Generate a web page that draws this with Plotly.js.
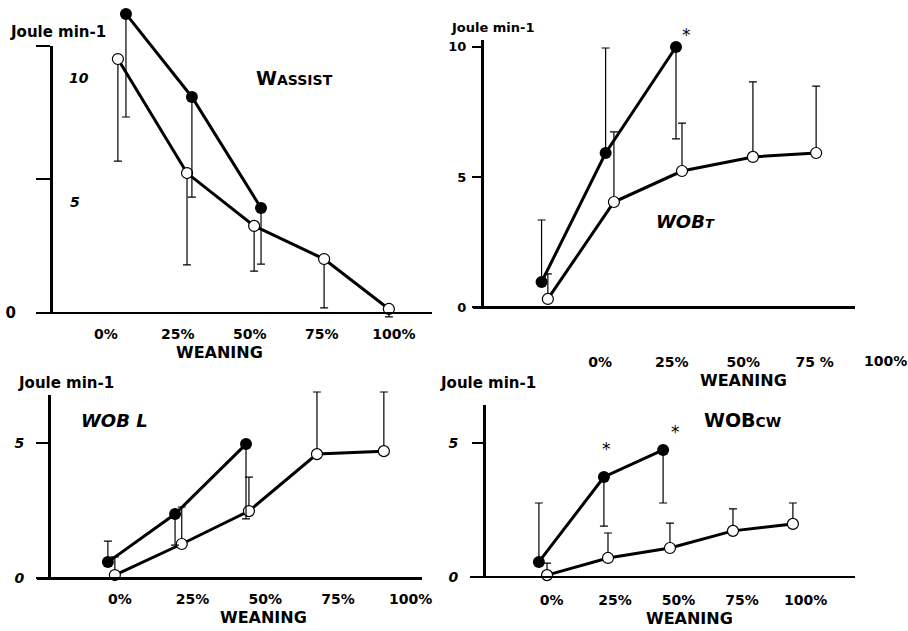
<!DOCTYPE html>
<html><head><meta charset="utf-8">
<script src="https://cdn.plot.ly/plotly-3.0.1.min.js"></script>
<style>html,body{margin:0;padding:0;background:#fff}</style>
</head><body><div id="chart" style="width:908px;height:631px"></div>
<script>
// ================= DATA =================
const weaningTicks = [0, 25, 50, 75, 100];
const weaningLabels = ['0%', '25%', '50%', '75%', '100%'];
const weaningLabelsB = ['0%', '25%', '50%', '75 %'];   // panel B prints "75 %" and 100% sits off the axis
const yTicksA = [0, 5, 10];
const yTicksB = [0, 5, 10];
const yTicksCD = [0, 5];

// Panel A: W assist (Joule min-1)
const aFilledX = [7.0, 29.9, 53.9];
const aFilledY = [11.19, 8.08, 3.92];
const aFilledLo = [7.33, 4.33, 1.82];
const aOpenX = [4.2, 28.2, 51.5, 75.8, 98.3];
const aOpenY = [9.5, 5.23, 3.25, 2.01, 0.14];
const aOpenLo = [5.68, 1.79, 1.56, 0.18, -0.16];

// Panel B: WOB total
const bFilledX = [-20.5, 1.9, 26.5];
const bFilledY = [0.97, 5.92, 9.99];
const bFilledHi = [3.35, 9.95, null];
const bFilledLo = [null, null, 6.46];
const bOpenX = [-18.3, 4.8, 28.6, 53.4, 75.5];
const bOpenY = [0.32, 4.04, 5.23, 5.77, 5.92];
const bOpenHi = [1.28, 6.73, 7.07, 8.65, 8.49];

// Panel C: WOB lung
const cFilledX = [-4.1, 19.0, 43.4];
const cFilledY = [0.6, 2.38, 4.97];
const cFilledHi = [1.38, null, null];
const cFilledLo = [null, 1.23, 2.2];
const cOpenX = [-1.7, 21.3, 44.4, 67.8, 90.8];
const cOpenY = [0.12, 1.27, 2.49, 4.6, 4.71];
const cOpenHi = [0.79, 2.64, 3.75, 6.9, 6.9];

// Panel D: WOB chest wall
const dFilledX = [-5.0, 20.6, 43.9];
const dFilledY = [0.55, 3.72, 4.73];
const dFilledHi = [2.75, null, null];
const dFilledLo = [null, 1.89, 2.75];
const dOpenX = [-1.8, 22.2, 46.6, 71.4, 95.0];
const dOpenY = [0.06, 0.7, 1.07, 1.71, 1.97];
const dOpenHi = [0.51, 1.63, 2.0, 2.53, 2.75];

// ================= LAYOUT / STYLE =================
const W = 908, H = 631;
const FONT = 'DejaVu Sans';
const px2x = p => p / W;
const py2y = p => 1 - p / H;

function errBars(vals, hi, lo) {
  return {
    type: 'data', symmetric: false, visible: true,
    array: vals.map((v, i) => (hi && hi[i] != null) ? hi[i] - v : 0),
    arrayminus: vals.map((v, i) => (lo && lo[i] != null) ? v - lo[i] : 0),
    color: '#000', thickness: 1.2, width: 4
  };
}

function series(x, y, hi, lo, filled, n) {
  return {
    type: 'scatter', mode: 'lines+markers', x: x, y: y,
    xaxis: 'x' + (n === 1 ? '' : n), yaxis: 'y' + (n === 1 ? '' : n),
    line: { color: '#000', width: 3 },
    marker: filled ? { symbol: 'circle', size: 12, color: '#000' }
                   : { symbol: 'circle', size: 11, color: '#fff', line: { color: '#000', width: 1.2 } },
    error_y: errBars(y, hi, lo),
    cliponaxis: false, showlegend: false, hoverinfo: 'skip'
  };
}

const traces = [
  series(aOpenX, aOpenY, null, aOpenLo, false, 1),
  series(aFilledX, aFilledY, null, aFilledLo, true, 1),
  series(bOpenX, bOpenY, bOpenHi, null, false, 2),
  series(bFilledX, bFilledY, bFilledHi, bFilledLo, true, 2),
  series(cOpenX, cOpenY, cOpenHi, null, false, 3),
  series(cFilledX, cFilledY, cFilledHi, cFilledLo, true, 3),
  series(dOpenX, dOpenY, dOpenHi, null, false, 4),
  series(dFilledX, dFilledY, dFilledHi, dFilledLo, true, 4)
];
// empty carriers so the drawn y spines (y5..y8) exist
for (let n = 1; n <= 4; n++) {
  traces.push({ type: 'scatter', x: [], y: [], xaxis: 'x' + (n === 1 ? '' : n), yaxis: 'y' + (n + 4), showlegend: false, hoverinfo: 'skip' });
}

// pixel geometry of each panel
const cfg = [
  { xl: 37, xr: 432, top: 45.7, base: 312.7, axisPx: 51, x0: 105.8, pxPct: 2.88, pxUnit: 26.7, ticklen: 14,
    yTv: yTicksA, yTt: ['0', '', ''], yFont: { size: 15, style: 'normal' }, yStand: 17, xStand: 8,
    xTv: weaningTicks, xTt: weaningLabels },
  { xl: 473, xr: 855, top: 40, base: 307.3, axisPx: 482, x0: 600.2, pxPct: 2.86, pxUnit: 26.06, ticklen: 9,
    yTv: yTicksB, yTt: ['0', '5', '10'], yFont: { size: 13, style: 'normal' }, yStand: 3, xStand: 41,
    xTv: weaningTicks.slice(0, 4), xTt: weaningLabelsB },
  { xl: 37, xr: 422, top: 395, base: 578.3, axisPx: 49, x0: 119.8, pxPct: 2.908, pxUnit: 27, ticklen: 12,
    yTv: yTicksCD, yTt: ['0', '5'], yFont: { size: 14, style: 'italic' }, yStand: 9, xStand: 7,
    xTv: weaningTicks, xTt: weaningLabels },
  { xl: 470, xr: 855, top: 405, base: 576.7, axisPx: 484, x0: 551.6, pxPct: 2.54, pxUnit: 26.8, ticklen: 11,
    yTv: yTicksCD, yTt: ['0', '5'], yFont: { size: 14, style: 'italic' }, yStand: 11, xStand: 10,
    xTv: weaningTicks, xTt: weaningLabels }
];

const layout = {
  width: W, height: H, margin: { l: 0, r: 0, t: 0, b: 0 }, autosize: false,
  paper_bgcolor: '#fff', plot_bgcolor: 'rgba(0,0,0,0)', showlegend: false,
  font: { family: FONT, color: '#000' },
  annotations: [], hovermode: false
};

cfg.forEach((c, i) => {
  const n = i + 1, sfx = n === 1 ? '' : String(n);
  const dTop = Math.max(0, c.top - 40), dBot = c.base + 25;
  layout['xaxis' + sfx] = {
    domain: [px2x(c.xl), px2x(c.xr)],
    range: [(c.xl - c.x0) / c.pxPct, (c.xr - c.x0) / c.pxPct],
    anchor: 'free', position: py2y(c.base),
    showline: true, linewidth: 2.6, linecolor: '#000', mirror: false,
    showgrid: false, zeroline: false, ticks: '',
    tickmode: 'array', tickvals: c.xTv, ticktext: c.xTt,
    tickfont: { family: FONT, size: 14, weight: 'bold', color: '#000' },
    ticklabelstandoff: c.xStand, fixedrange: true
  };
  layout['yaxis' + sfx] = {
    domain: [py2y(dBot), py2y(dTop)],
    range: [-(dBot - c.base) / c.pxUnit, (c.base - dTop) / c.pxUnit],
    visible: false, anchor: 'x' + sfx, fixedrange: true
  };
  layout['yaxis' + (n + 4)] = {
    domain: [py2y(c.base), py2y(c.top)],
    range: [0, (c.base - c.top) / c.pxUnit],
    anchor: 'free', position: px2x(c.axisPx),
    showline: true, linewidth: 2.6, linecolor: '#000',
    showgrid: false, zeroline: false,
    ticks: 'outside', ticklen: c.ticklen, tickwidth: 2.4, tickcolor: '#000',
    tickmode: 'array', tickvals: c.yTv, ticktext: c.yTt,
    tickfont: Object.assign({ family: FONT, weight: 'bold', color: '#000' }, c.yFont),
    ticklabelstandoff: c.yStand, fixedrange: true
  };
});

function ann(text, px, py, font, xanchor) {
  return { xref: 'paper', yref: 'paper', x: px2x(px), y: py2y(py), text: text,
           xanchor: xanchor || 'center', yanchor: 'middle', showarrow: false,
           font: Object.assign({ family: FONT, color: '#000' }, font) };
}
const bold15 = { size: 15, weight: 'bold' };
layout.annotations.push(
  // unit labels
  ann('Joule min-1', 58, 32, bold15),
  ann('Joule min-1', 493, 27, { size: 13, weight: 'bold' }),
  ann('Joule min-1', 66, 383, bold15),
  ann('Joule min-1', 488, 383, bold15),
  // x titles
  ann('WEANING', 219, 352, { size: 16, weight: 'bold' }),
  ann('WEANING', 743, 380, { size: 16, weight: 'bold' }),
  ann('WEANING', 263, 617, { size: 16, weight: 'bold' }),
  ann('WEANING', 689, 618, { size: 16, weight: 'bold' }),
  // stray tick labels of panel A drawn inside the frame
  ann('10', 79, 78, { size: 14, weight: 'bold', style: 'italic' }),
  ann('5', 75, 202, { size: 14, weight: 'bold', style: 'italic' }),
  // panel B's 100% label sits beyond the axis line
  ann('100%', 885, 361, { size: 14, weight: 'bold' }),
  // panel titles
  ann('W<span style="font-size:14px">ASSIST</span>', 294, 78, { size: 19, weight: 'bold' }),
  ann('WOB<span style="font-size:13px">T</span>', 685, 221, { size: 18, weight: 'bold', style: 'italic' }),
  ann('WOB L', 114, 420, { size: 18, weight: 'bold', style: 'italic' }),
  ann('WOB<span style="font-size:14px">CW</span>', 742, 420, { size: 19, weight: 'bold' })
);
// significance asterisks, attached to their points
function star(xa, ya, x, y, dx, dy) {
  return { xref: xa, yref: ya, x: x, y: y, text: '*', showarrow: false, xshift: dx, yshift: dy,
           font: { family: FONT, size: 17, color: '#000' } };
}
layout.annotations.push(
  star('x2', 'y2', bFilledX[2], bFilledY[2], 11, 12),
  star('x4', 'y4', dFilledX[1], dFilledY[1], 3, 28),
  star('x4', 'y4', dFilledX[2], dFilledY[2], 12, 18)
);

Plotly.newPlot('chart', traces, layout, { staticPlot: true, displayModeBar: false });
</script>
</body></html>
